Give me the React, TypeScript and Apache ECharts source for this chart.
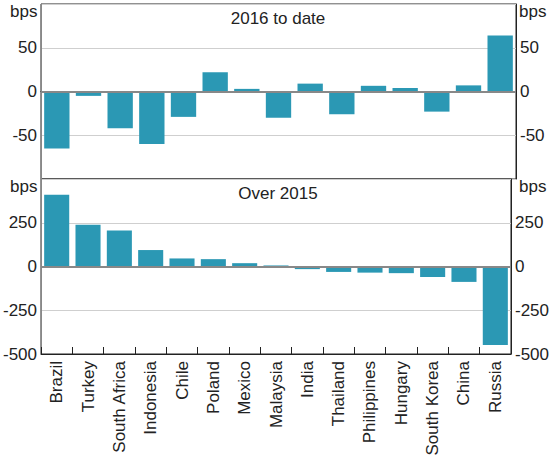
import React, { useEffect, useRef } from "react";
import * as echarts from "echarts";

const categories = [
  "Brazil", "Turkey", "South Africa", "Indonesia", "Chile", "Poland", "Mexico",
  "Malaysia", "India", "Thailand", "Philippines", "Hungary", "South Korea", "China", "Russia",
];
const since2016 = [-65, -5, -42, -60, -29, 22, 3, -30, 9, -26, 6.5, 4, -23, 7, 64];
const over2015 = [410, 238, 206, 94, 46, 42, 19, 6, -15, -31, -35, -38, -60, -88, -448];
const topTicks = [-100, -50, 0, 50, 100];
const bottomTicks = [-500, -250, 0, 250, 500];

const FONT = "Liberation Sans, Arial, sans-serif";
const BAR = "#2b98b4";
const TXT = "#222";

export default function App() {
  const ref = useRef<HTMLDivElement>(null);
  useEffect(() => {
    if (!ref.current) return;
    const chart = echarts.init(ref.current, undefined, { renderer: "svg" });
    const L = 41, R = 36;
    const grids = [
      { left: L, right: R, top: 4, height: 175 },
      { left: L, right: R, top: 179, height: 175 },
    ];
    const mkY = (gi: number, ticks: number[], pos: "left" | "right", hideTop: boolean) => ({
      type: "value",
      gridIndex: gi,
      position: pos,
      min: ticks[0],
      max: ticks[ticks.length - 1],
      interval: ticks[1] - ticks[0],
      axisLine: { show: true, lineStyle: { color: pos === "left" ? "#888" : "#222", width: 1 } },
      axisTick: { show: false },
      splitLine: { show: pos === "left", lineStyle: { color: "#cfcfcf", width: 1 } },
      axisLabel: {
        color: TXT,
        fontSize: 17,
        fontFamily: FONT,
        margin: 4,
        formatter: (v: number) => {
          if (v === ticks[ticks.length - 1]) return "";
          if (hideTop && v === ticks[0]) return "";
          return String(v);
        },
      },
    });
    const zeroLine = {
      silent: true,
      symbol: "none",
      label: { show: false },
      lineStyle: { color: "#888", width: 2, type: "solid" },
      data: [{ yAxis: 0 }],
    };
    chart.setOption({
      animation: false,
      grid: grids.map((g) => ({ ...g, show: true, borderColor: "#222", borderWidth: 1, backgroundColor: "transparent" })),
      xAxis: [
        {
          type: "category", gridIndex: 0, data: categories,
          axisLine: { show: true, lineStyle: { color: "#222" } },
          axisTick: { show: false }, axisLabel: { show: false },
        },
        {
          type: "category", gridIndex: 1, data: categories,
          axisLine: { show: true, onZero: false, lineStyle: { color: "#222" } },
          axisTick: { show: true, inside: true, length: 7, lineStyle: { color: "#222" } },
          axisLabel: { rotate: 90, color: TXT, fontSize: 17, fontFamily: FONT, margin: 7, interval: 0 },
        },
      ],
      yAxis: [
        mkY(0, topTicks, "left", true),
        mkY(0, topTicks, "right", true),
        mkY(1, bottomTicks, "left", false),
        mkY(1, bottomTicks, "right", false),
      ],
      series: [
        {
          type: "bar", xAxisIndex: 0, yAxisIndex: 0, data: since2016,
          barCategoryGap: "20%",
          itemStyle: { color: BAR },
          markLine: zeroLine,
        },
        {
          type: "bar", xAxisIndex: 1, yAxisIndex: 2, data: over2015,
          barCategoryGap: "20%",
          itemStyle: { color: BAR },
          markLine: zeroLine,
        },
      ],
      graphic: [
        { type: "text", left: 10, top: 3, style: { text: "bps", fontSize: 17, fontFamily: FONT, fill: TXT } },
        { type: "text", left: 519, top: 3, style: { text: "bps", fontSize: 17, fontFamily: FONT, fill: TXT } },
        { type: "text", left: 10, top: 178, style: { text: "bps", fontSize: 17, fontFamily: FONT, fill: TXT } },
        { type: "text", left: 519, top: 178, style: { text: "bps", fontSize: 17, fontFamily: FONT, fill: TXT } },
        { type: "text", x: 278, y: 18, style: { text: "2016 to date", fontSize: 17, fontFamily: FONT, fill: TXT, align: "center", verticalAlign: "middle" } },
        { type: "text", x: 278, y: 193, style: { text: "Over 2015", fontSize: 17, fontFamily: FONT, fill: TXT, align: "center", verticalAlign: "middle" } },
      ],
    });
    return () => chart.dispose();
  }, []);
  return <div ref={ref} style={{ width: 552, height: 462, position: "absolute", left: 0, top: 0 }} />;
}
